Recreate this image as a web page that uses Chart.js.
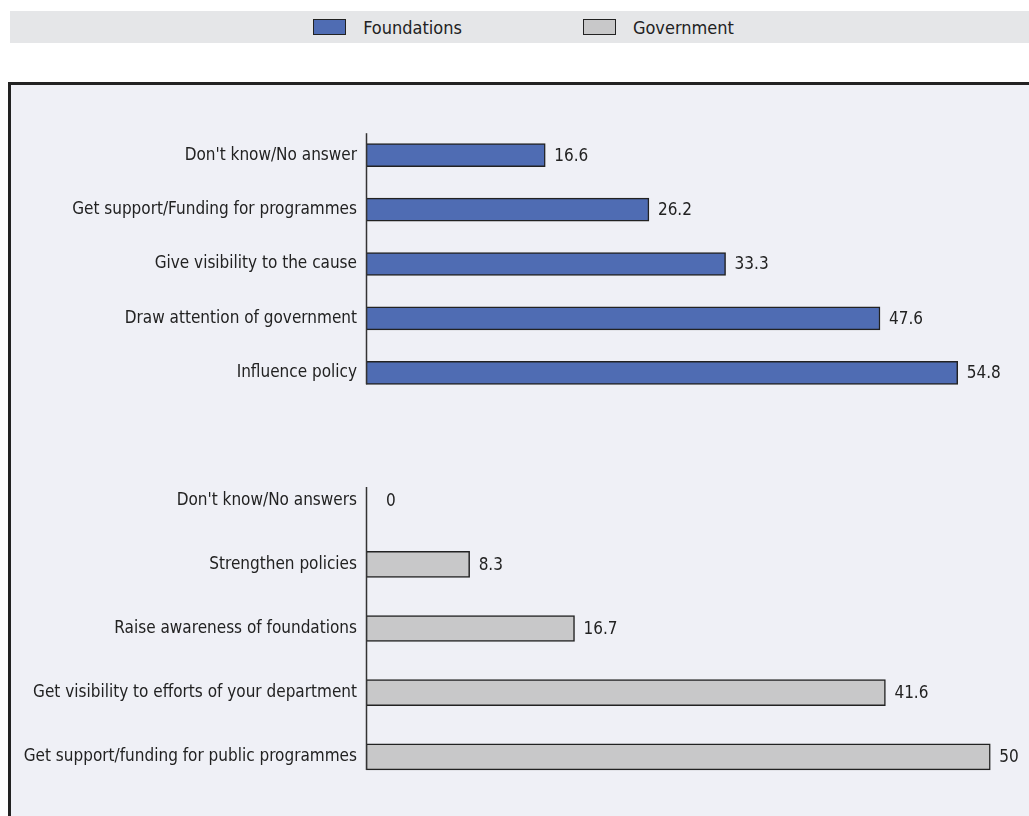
<!DOCTYPE html>
<html>
<head>
<meta charset="utf-8">
<script src="https://cdn.jsdelivr.net/npm/chart.js@4/dist/chart.umd.min.js"></script>
<style>
  body { margin: 0; background: #fff; overflow: hidden; width: 1029px; height: 816px; position: relative; }
  #legend {
    position: absolute; left: 10px; top: 11px; width: 1011px; height: 32px; padding-left: 8px;
    background: #e5e6e8; display: flex; justify-content: center; align-items: center; gap: 121px;
    font-family: 'DejaVu Sans Condensed', sans-serif; font-size: 18px; color: #222;
  }
  #legend .item { display: flex; align-items: center; }
  #legend .box { width: 31px; height: 14px; border: 1px solid #222; margin-right: 17px; }
  #frame {
    position: absolute; left: 8px; top: 82px; width: 1060px; height: 800px;
    border: 3px solid #222; background: #eff0f6;
  }
  #wrap { position: absolute; left: 0; top: 0; width: 1029px; height: 816px; }
</style>
</head>
<body>
<div id="legend"></div>
<div id="frame"></div>
<div id="wrap"><canvas id="chart"></canvas></div>
<script>
'use strict';

// Foundations
const foundationLabels = ["Don't know/No answer", 'Get support/Funding for programmes', 'Give visibility to the cause', 'Draw attention of government', 'Influence policy'];
const foundationValues = [16.6, 26.2, 33.3, 47.6, 54.8];

// Government
const governmentLabels = ["Don't know/No answers", 'Strengthen policies', 'Raise awareness of foundations', 'Get visibility to efforts of your department', 'Get support/funding for public programmes'];
const governmentValues = [0, 8.3, 16.7, 41.6, 50];

const seriesNames = ['Foundations', 'Government'];
const seriesColors = ['#4f6cb3', '#c8c8c9'];

const fontFamily = "'DejaVu Sans Condensed', sans-serif";

const fixWidth = (scale) => { scale.width = 366; };

// how far each panel's axis line starts above its first bar centre
const axisLead = [22, 13];

// value labels at the end of each bar + the short vertical axis line per panel
const valueLabels = {
    id: 'valueLabels',
    afterDatasetsDraw(chart) {
        const ctx = chart.ctx;
        ctx.save();
        chart.data.datasets.forEach((ds, i) => {
            const bars = chart.getDatasetMeta(i).data;
            const first = bars[0];
            const last = bars[bars.length - 1];
            const x = chart.chartArea.left + 0.5;
            ctx.strokeStyle = '#333';
            ctx.lineWidth = 1.5;
            ctx.beginPath();
            ctx.moveTo(x, first.y - axisLead[i]);
            ctx.lineTo(x, last.y + last.height / 2);
            ctx.stroke();
        });
        ctx.font = '17px ' + fontFamily;
        ctx.fillStyle = '#222';
        ctx.textBaseline = 'middle';
        ctx.textAlign = 'left';
        chart.data.datasets.forEach((ds, i) => {
            chart.getDatasetMeta(i).data.forEach((bar, j) => {
                const pad = ds.data[j] === 0 ? 20 : 9;
                ctx.fillText(String(ds.data[j]), bar.x + pad, bar.y + 1);
            });
        });
        ctx.restore();
    }
};

// legend in the grey strip above the frame
const htmlLegend = {
    id: 'htmlLegend',
    afterUpdate(chart) {
        const el = document.getElementById('legend');
        el.innerHTML = '';
        chart.data.datasets.forEach(ds => {
            const item = document.createElement('div');
            item.className = 'item';
            const box = document.createElement('span');
            box.className = 'box';
            box.style.background = ds.backgroundColor;
            const txt = document.createElement('span');
            txt.textContent = ds.label;
            item.appendChild(box);
            item.appendChild(txt);
            el.appendChild(item);
        });
    }
};

const yAxis = (labels, weight, stackWeight) => ({
    type: 'category',
    axis: 'y',
    position: 'left',
    labels: labels,
    offset: true,
    stack: 'panels',
    stackWeight: stackWeight,
    weight: weight,
    afterFit: fixWidth,
    grid: { display: false, drawTicks: false },
    border: { display: false },
    ticks: { padding: 9, color: '#222', font: { family: fontFamily, size: 17 } }
});

const ctx = document.getElementById('chart').getContext('2d');
const chart = new Chart(ctx, {
    type: 'bar',
    data: {
        datasets: [{
            label: seriesNames[0],
            data: foundationValues,
            backgroundColor: seriesColors[0],
            borderColor: '#222',
            borderWidth: 1.5,
            borderSkipped: false,
            barThickness: 23,
            grouped: false,
            xAxisID: 'x',
            yAxisID: 'y'
        }, {
            label: seriesNames[1],
            data: governmentValues,
            backgroundColor: seriesColors[1],
            borderColor: '#222',
            borderWidth: 1.5,
            borderSkipped: false,
            barThickness: 26,
            grouped: false,
            xAxisID: 'x2',
            yAxisID: 'y2'
        }]
    },
    options: {
        indexAxis: 'y',
        responsive: true,
        maintainAspectRatio: false,
        animation: false,
        layout: { padding: { top: 128, bottom: 27, left: 0, right: 0 } },
        plugins: {
            legend: { display: false },
            tooltip: { enabled: false }
        },
        scales: {
            x: { type: 'linear', axis: 'x', position: 'bottom', display: false, min: 0, max: 61.4 },
            x2: { type: 'linear', axis: 'x', position: 'bottom', display: false, min: 0, max: 53.1 },
            y: yAxis(foundationLabels, 3, 272),
            gap: {
                type: 'category',
                axis: 'y',
                position: 'left',
                labels: [''],
                display: false,
                stack: 'panels',
                stackWeight: 68,
                weight: 2
            },
            y2: yAxis(governmentLabels, 1, 321)
        }
    },
    plugins: [valueLabels, htmlLegend]
});
</script>
</body>
</html>
